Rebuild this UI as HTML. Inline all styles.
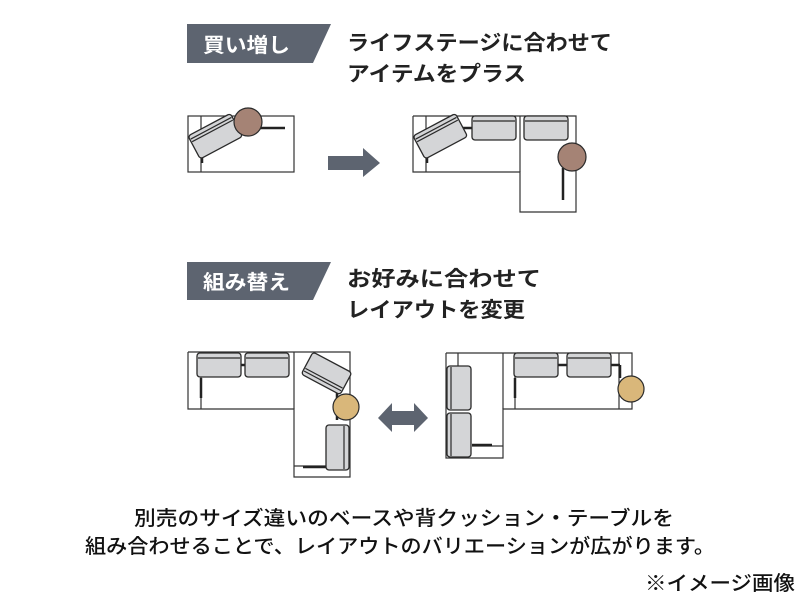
<!DOCTYPE html>
<html><head><meta charset="utf-8"><style>
body{margin:0;background:#fff;}
svg{display:block;}
text{font-family:"Liberation Sans","Noto Sans CJK JP",sans-serif;}
</style></head><body>
<svg width="800" height="600" viewBox="0 0 800 600" xmlns="http://www.w3.org/2000/svg">
<defs>
<g id="cushH">
<rect x="0" y="0" width="44" height="24" rx="3" fill="#d4d5d7" stroke="#2a2a2a" stroke-width="1.3"/>
<line x1="1" y1="5" x2="43" y2="5" stroke="#2a2a2a" stroke-width="1.2"/>
</g>
</defs>
<!-- header 1 -->
<polygon points="187,24 331,24 313,63 187,63" fill="#5d6470"/>
<text x="203" y="52" font-size="20" font-weight="bold" fill="#fff" textLength="87" lengthAdjust="spacingAndGlyphs">買い増し</text>
<text x="347" y="50" font-size="21" font-weight="bold" fill="#222" textLength="265" lengthAdjust="spacingAndGlyphs">ライフステージに合わせて</text>
<text x="347" y="81" font-size="21" font-weight="bold" fill="#222" textLength="179" lengthAdjust="spacingAndGlyphs">アイテムをプラス</text>

<!-- diagram 1 left -->
<g fill="none" stroke="#333" stroke-width="1.2">
<rect x="188" y="116" width="106" height="56"/>
<line x1="201" y1="116" x2="201" y2="172"/>
</g>
<line x1="260" y1="128" x2="285" y2="128" stroke="#222" stroke-width="2.5"/>
<line x1="202" y1="155" x2="202" y2="163" stroke="#222" stroke-width="2.5"/>
<g transform="translate(188,136) rotate(-28)">
<rect x="0" y="0" width="48" height="26" rx="3" fill="#d4d5d7" stroke="#2a2a2a" stroke-width="1.3"/>
<line x1="1" y1="4" x2="47" y2="4" stroke="#2a2a2a" stroke-width="1.2"/>
<line x1="1" y1="7" x2="47" y2="7" stroke="#2a2a2a" stroke-width="1.2"/>
</g>
<circle cx="248" cy="122" r="14" fill="#a58375" stroke="#2a2a2a" stroke-width="1.2"/>

<!-- arrow -->
<polygon points="328,156 363,156 363,148 380,163 363,177 363,170 328,170" fill="#5d6470"/>

<!-- diagram 1 right -->
<g fill="none" stroke="#333" stroke-width="1.2">
<polyline points="413,116 576,116 576,212 520,212 520,172 413,172 413,116"/>
<line x1="520" y1="116" x2="520" y2="172"/>
<line x1="426" y1="116" x2="426" y2="172"/>
</g>
<line x1="460" y1="128" x2="472" y2="128" stroke="#222" stroke-width="2.5"/>
<line x1="427" y1="155" x2="427" y2="163" stroke="#222" stroke-width="2.5"/>
<line x1="563" y1="168" x2="563" y2="200" stroke="#222" stroke-width="2.5"/>
<g transform="translate(413,136) rotate(-28)">
<rect x="0" y="0" width="48" height="26" rx="3" fill="#d4d5d7" stroke="#2a2a2a" stroke-width="1.3"/>
<line x1="1" y1="4" x2="47" y2="4" stroke="#2a2a2a" stroke-width="1.2"/>
<line x1="1" y1="7" x2="47" y2="7" stroke="#2a2a2a" stroke-width="1.2"/>
</g>
<use href="#cushH" x="472" y="116"/>
<use href="#cushH" x="524" y="116"/>
<circle cx="572" cy="157" r="14" fill="#a58375" stroke="#2a2a2a" stroke-width="1.2"/>

<!-- header 2 -->
<polygon points="187,262 331,262 313,300 187,300" fill="#5d6470"/>
<text x="203" y="289" font-size="20" font-weight="bold" fill="#fff" textLength="87" lengthAdjust="spacingAndGlyphs">組み替え</text>
<text x="347" y="286" font-size="21" font-weight="bold" fill="#222" textLength="194" lengthAdjust="spacingAndGlyphs">お好みに合わせて</text>
<text x="347" y="317" font-size="21" font-weight="bold" fill="#222" textLength="178" lengthAdjust="spacingAndGlyphs">レイアウトを変更</text>

<!-- diagram 2 left -->
<g fill="none" stroke="#333" stroke-width="1.2">
<polyline points="188,352 350,352 350,477 294,477 294,409 188,409 188,352"/>
<line x1="294" y1="352" x2="294" y2="409"/>
<line x1="201" y1="352" x2="201" y2="409"/>
<line x1="294" y1="466" x2="350" y2="466"/>
</g>
<line x1="201" y1="378" x2="201" y2="398" stroke="#222" stroke-width="2.5"/>
<line x1="240" y1="365" x2="246" y2="365" stroke="#222" stroke-width="2.5"/>
<line x1="337" y1="390" x2="337" y2="420" stroke="#222" stroke-width="2.5"/>
<line x1="303" y1="467" x2="328" y2="467" stroke="#222" stroke-width="2.5"/>
<use href="#cushH" x="197" y="353"/>
<use href="#cushH" x="245" y="353"/>
<g transform="translate(313,352) rotate(28)">
<rect x="0" y="0" width="44" height="25" rx="3" fill="#d4d5d7" stroke="#2a2a2a" stroke-width="1.3"/>
<line x1="1" y1="21" x2="43" y2="21" stroke="#2a2a2a" stroke-width="1.2"/>
<line x1="1" y1="18" x2="43" y2="18" stroke="#2a2a2a" stroke-width="1.2"/>
</g>
<rect x="326" y="425" width="23" height="45" rx="3" fill="#d4d5d7" stroke="#2a2a2a" stroke-width="1.3"/>
<line x1="344" y1="426" x2="344" y2="469" stroke="#2a2a2a" stroke-width="1.2"/>
<circle cx="346" cy="407" r="13" fill="#d9b77a" stroke="#2a2a2a" stroke-width="1.2"/>

<!-- double arrow -->
<polygon points="378,418 392,403 392,411 414,411 414,403 428,418 414,432 414,425 392,425 392,432" fill="#5d6470"/>

<!-- diagram 2 right -->
<g fill="none" stroke="#333" stroke-width="1.2">
<polyline points="446,353 632,353 632,409 503,409 503,458 446,458 446,353"/>
<line x1="503" y1="353" x2="503" y2="409"/>
<line x1="515" y1="353" x2="515" y2="409"/>
<line x1="619" y1="353" x2="619" y2="409"/>
<line x1="458" y1="353" x2="458" y2="366"/>
<line x1="472" y1="446" x2="503" y2="446"/>
</g>
<line x1="515" y1="378" x2="515" y2="398" stroke="#222" stroke-width="2.5"/>
<line x1="558" y1="365" x2="567" y2="365" stroke="#222" stroke-width="2.5"/>
<line x1="611" y1="365" x2="620" y2="365" stroke="#222" stroke-width="2.5"/>
<line x1="620" y1="365" x2="620" y2="378" stroke="#222" stroke-width="2.5"/>
<line x1="472" y1="445" x2="492" y2="445" stroke="#222" stroke-width="2.5"/>
<rect x="447" y="366" width="24" height="44" rx="3" fill="#d4d5d7" stroke="#2a2a2a" stroke-width="1.3"/>
<line x1="451" y1="367" x2="451" y2="409" stroke="#2a2a2a" stroke-width="1.2"/>
<rect x="447" y="413" width="24" height="44" rx="3" fill="#d4d5d7" stroke="#2a2a2a" stroke-width="1.3"/>
<line x1="451" y1="414" x2="451" y2="456" stroke="#2a2a2a" stroke-width="1.2"/>
<use href="#cushH" x="514" y="353"/>
<use href="#cushH" x="567" y="353"/>
<circle cx="631" cy="389" r="13" fill="#d9b77a" stroke="#2a2a2a" stroke-width="1.2"/>

<!-- bottom text -->
<text x="404" y="525" font-size="20" font-weight="500" fill="#111" text-anchor="middle" textLength="540" lengthAdjust="spacingAndGlyphs">別売のサイズ違いのベースや背クッション・テーブルを</text>
<text x="400" y="553" font-size="20" font-weight="500" fill="#111" text-anchor="middle" textLength="630" lengthAdjust="spacingAndGlyphs">組み合わせることで、レイアウトのバリエーションが広がります。</text>
<text x="795" y="590" font-size="20" font-weight="500" fill="#111" text-anchor="end" textLength="150" lengthAdjust="spacingAndGlyphs">※イメージ画像</text>
</svg>
</body></html>
